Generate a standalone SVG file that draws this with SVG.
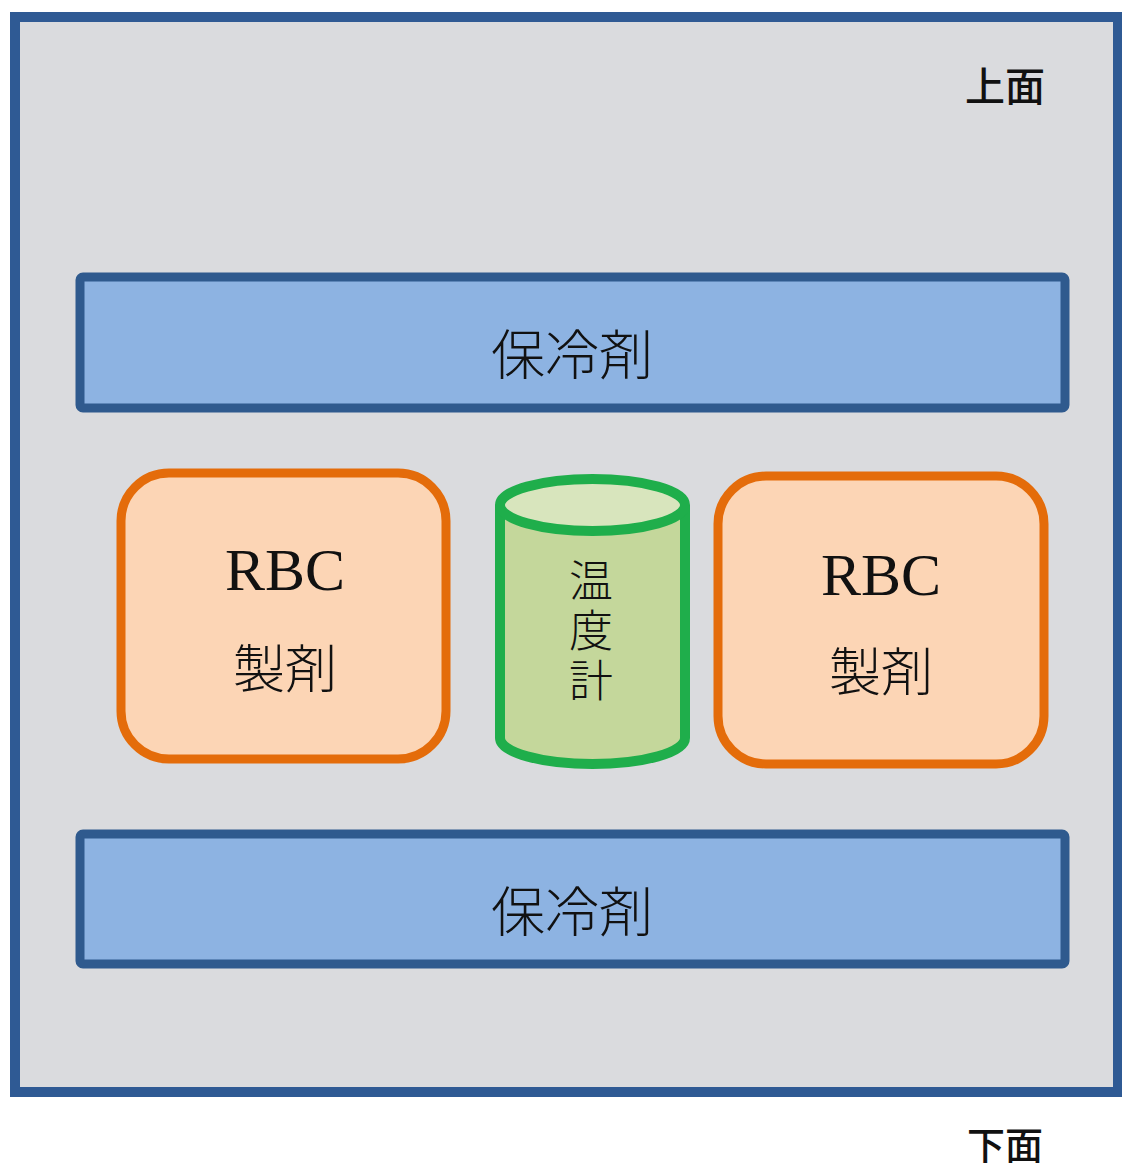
<svg xmlns="http://www.w3.org/2000/svg" width="1122" height="1171" viewBox="0 0 1122 1171">
<style>
.cjk{font-family:"Noto Sans CJK JP","Noto Sans CJK SC",sans-serif;fill:#111;}
.ser{font-family:"Liberation Serif","Noto Sans CJK JP",serif;fill:#111;}
.bar{fill:#8db3e2;stroke:#2f5a8e;stroke-width:9;}
.rbc{fill:#fcd5b5;stroke:#e46c0a;stroke-width:9;}
</style>
<rect width="1122" height="1171" fill="#ffffff"/>
<g id="container">
<rect x="15" y="17" width="1103" height="1075" fill="#dadbde" stroke="#2f5a94" stroke-width="10"/>
</g>
<g id="label-top"><text class="cjk" x="1005" y="101" font-size="40" font-weight="500" text-anchor="middle">上面</text></g>
<g id="coolant-top">
<rect class="bar" x="80" y="277" width="985" height="131" rx="3"/>
<text class="cjk" x="572" y="375" font-size="54" font-weight="300" text-anchor="middle">保冷剤</text>
</g>
<g id="rbc-left">
<rect class="rbc" x="121" y="473" width="325" height="286" rx="48"/>
<text class="ser" x="285" y="590" font-size="60" text-anchor="middle">RBC</text>
<text class="cjk" x="285" y="688" font-size="52" font-weight="300" text-anchor="middle">製剤</text>
</g>
<g id="thermometer">
<path d="M500,505 L500,738 A92.5,26 0 0 0 685,738 L685,505" fill="#c4d79b" stroke="#1fae4b" stroke-width="10"/>
<ellipse cx="592.5" cy="505" rx="92.5" ry="26" fill="#d8e5bd" stroke="#1fae4b" stroke-width="10"/>
<text class="cjk" x="591" y="633" font-size="44" font-weight="300" text-anchor="middle" writing-mode="vertical-rl" letter-spacing="6">温度計</text>
</g>
<g id="rbc-right">
<rect class="rbc" x="718" y="476" width="326" height="288" rx="48"/>
<text class="ser" x="881" y="595" font-size="60" text-anchor="middle">RBC</text>
<text class="cjk" x="881" y="691" font-size="52" font-weight="300" text-anchor="middle">製剤</text>
</g>
<g id="coolant-bottom">
<rect class="bar" x="80" y="834" width="985" height="130" rx="3"/>
<text class="cjk" x="572" y="932" font-size="54" font-weight="300" text-anchor="middle">保冷剤</text>
</g>
<g id="label-bottom"><text class="cjk" x="1005" y="1159" font-size="38" font-weight="500" text-anchor="middle">下面</text></g>
<g id="connectors"></g>
</svg>
